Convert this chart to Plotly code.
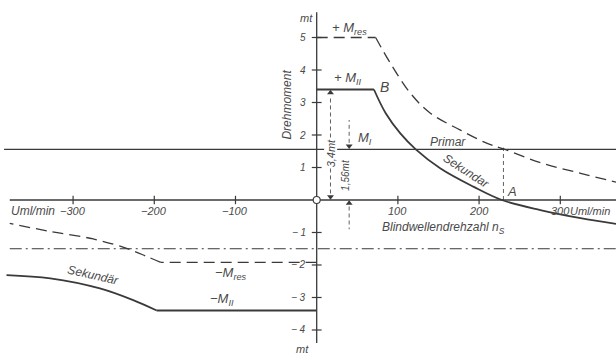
import plotly.graph_objects as go

# ---------------- data ----------------
x_ticks = [-300, -200, -100, 100, 200, 300]
y_ticks = [-4, -3, -2, -1, 1, 2, 3, 4, 5]

M_I = 1.56          # Primär
M_dashdot = -1.5    # dash-dot line (−M_I)

# + M_II (Sekundär, positive side)
sek_flat_x = [0, 70.5]
sek_flat_y = [3.4, 3.4]
sek_curve_x = [70.5, 85, 103, 122, 152.5, 193, 228, 275.5, 325, 370]
sek_curve_y = [3.4, 2.67, 2.05, 1.56, 0.97, 0.41, 0.0, -0.31, -0.56, -0.74]

# + M_res (dashed, positive side)
res_flat_x = [0, 72.6]
res_flat_y = [5.0, 5.0]
res_curve_x = [72.6, 91, 115.6, 140, 177, 210, 230, 275.5, 325, 370]
res_curve_y = [5.0, 4.2, 3.28, 2.67, 2.15, 1.74, 1.57, 1.15, 0.82, 0.54]

# − M_II (negative side)
nsek_flat_x = [0, -197]
nsek_flat_y = [-3.4, -3.4]
nsek_curve_x = [-197, -226, -267, -328, -382]
nsek_curve_y = [-3.4, -3.08, -2.72, -2.41, -2.31]

# − M_res (dashed, negative side)
nres_flat_x = [0, -192]
nres_flat_y = [-1.92, -1.92]
nres_curve_x = [-192, -209, -234, -275, -328, -378]
nres_curve_y = [-1.92, -1.74, -1.49, -1.2, -0.97, -0.72]

point_A = 230
dim_34 = 3.4

XR = [-390, 368.6]
YR = [-4.862, 6.154]

LINE = "#3a3a3a"
TXT = "#4a4a4a"
FONT = "Liberation Sans"

fig = go.Figure()

def line(x, y, width=1.6, dash="solid", shape="linear"):
    fig.add_trace(go.Scatter(x=x, y=y, mode="lines",
                             line=dict(color=LINE, width=width, dash=dash, shape=shape, smoothing=1.0),
                             hoverinfo="skip", showlegend=False))

DASH = "11px,6px"
DASHDOT = "12px,4px,2px,4px"

# primary and dash-dot horizontals
line([XR[0] + 5, XR[1]], [M_I, M_I], width=1.3)
line([-378, XR[1]], [M_dashdot, M_dashdot], width=1.0, dash=DASHDOT)

# secondary curves
line(sek_flat_x, sek_flat_y, width=1.8)
line(sek_curve_x, sek_curve_y, width=1.8, shape="spline")
line(nsek_flat_x, nsek_flat_y, width=1.8)
line(nsek_curve_x, nsek_curve_y, width=1.8, shape="spline")

# resultant (dashed)
line(res_flat_x, res_flat_y, width=1.3, dash=DASH)
line(res_curve_x, res_curve_y, width=1.3, dash=DASH, shape="spline")
line(nres_flat_x, nres_flat_y, width=1.3, dash=DASH)
line(nres_curve_x, nres_curve_y, width=1.3, dash=DASH, shape="spline")

# vertical dashed at A
line([point_A, point_A], [0, M_I + 0.05], width=0.8, dash="4px,3px")

# dimension line for 3,4 mt
line([17, 17], [0.2, dim_34 - 0.2], width=0.8, dash="4px,3px")
# dimension lines for 1,56 mt
line([40, 40], [M_I + 0.2, M_I + 0.9], width=0.8, dash="4px,3px")
line([40, 40], [-0.2, -0.9], width=0.8, dash="4px,3px")

# axes
line([XR[0] + 12, XR[1]], [0, 0], width=1.3)
line([0, 0], [-4.4, 5.78], width=1.3)

# ticks
fig.add_trace(go.Scatter(x=x_ticks, y=[0] * len(x_ticks), mode="markers",
                         marker=dict(symbol="line-ns", size=6, line=dict(color=LINE, width=1.2)),
                         hoverinfo="skip", showlegend=False))
fig.add_trace(go.Scatter(x=[0] * len(y_ticks), y=y_ticks, mode="markers",
                         marker=dict(symbol="line-ew", size=7, line=dict(color=LINE, width=1.2)),
                         hoverinfo="skip", showlegend=False))
# origin circle
fig.add_trace(go.Scatter(x=[0], y=[0], mode="markers",
                         marker=dict(symbol="circle", size=7, color="white", line=dict(width=1.1, color=LINE)),
                         hoverinfo="skip", showlegend=False))

# arrowheads of the dimension lines (triangles, tip on the reference line)
fig.add_trace(go.Scatter(x=[17, 40], y=[dim_34 - 0.1, 0 - 0.1], mode="markers",
                         marker=dict(symbol="triangle-up", size=6, color=LINE),
                         hoverinfo="skip", showlegend=False))
fig.add_trace(go.Scatter(x=[17, 40], y=[0 + 0.1, M_I + 0.1], mode="markers",
                         marker=dict(symbol="triangle-down", size=6, color=LINE),
                         hoverinfo="skip", showlegend=False))

ann = []

def text(x, y, s, size=12, angle=0, xanchor="center", yanchor="middle", bg=None, xshift=0, yshift=0):
    d = dict(x=x, y=y, text=s, showarrow=False, textangle=angle,
             xanchor=xanchor, yanchor=yanchor, xshift=xshift, yshift=yshift,
             font=dict(family=FONT, size=size, color=TXT, style="italic"))
    if bg:
        d["bgcolor"] = bg
        d["borderpad"] = 0
    ann.append(d)

# tick labels
for t in x_ticks:
    lab = ("−" + str(-t)) if t < 0 else str(t)
    text(t, 0, lab, size=11, yshift=-11)
for t in y_ticks:
    lab = ("− " + str(-t)) if t < 0 else str(t)
    text(0, t, lab, size=10, xanchor="right", xshift=-9)

# units / axis titles
text(-320, 0, "Uml/min", size=12, xanchor="right", yshift=-11)
text(309, 0, "Uml/min", size=11, xanchor="left", yshift=-11)
text(-12, 5.6, "mt", size=11)
text(-18, YR[0], "mt", size=11, yanchor="bottom", yshift=1)
text(-36, 2.95, "Drehmoment", size=12, angle=-90)
text(156, -0.86, "Blindwellendrehzahl n<sub>S</sub>", size=12)

# curve labels
text(41, 5.29, "+ M<sub>res</sub>", size=13)
text(38, 3.74, "+ M<sub>II</sub>", size=13)
text(83, 3.47, "B", size=14)
text(60, 1.9, "M<sub>I</sub>", size=13)
text(162, 1.79, "Primar", size=12)
text(184, 0.88, "Sekundar", size=12, angle=33)
text(241, 0.25, "A", size=13)
text(-106, -2.25, "−M<sub>res</sub>", size=13)
text(-116, -3.06, "−M<sub>II</sub>", size=13)
text(-276, -2.32, "Sekundär", size=12, angle=13)

# dimension labels
text(17, 1.45, "3,4mt", size=11, angle=-90, bg="white")
text(36, 0.77, "1,56mt", size=10, angle=-90)

fig.update_layout(
    width=616, height=358,
    margin=dict(l=0, r=0, t=0, b=0),
    paper_bgcolor="white", plot_bgcolor="white",
    xaxis=dict(range=XR, visible=False, fixedrange=True),
    yaxis=dict(range=YR, visible=False, fixedrange=True),
    annotations=ann,
    showlegend=False,
)

fig.write_html("out.html",
               config={"displayModeBar": False, "staticPlot": True},
               post_script="document.body.style.margin='0';document.body.style.overflow='hidden';")
